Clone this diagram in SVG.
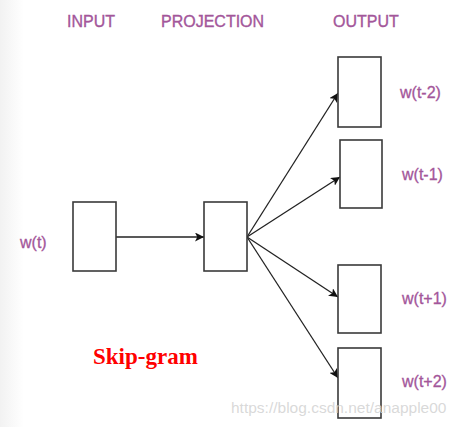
<svg xmlns="http://www.w3.org/2000/svg" width="462" height="427" viewBox="0 0 462 427">
<style>
.box{fill:#fff;stroke:#3a3a3a;stroke-width:1.6}
.hdr{font-family:"Liberation Sans",Arial,sans-serif;font-size:16px;fill:#a3569a;stroke:#a3569a;stroke-width:0.35}
.lbl{font-family:"Liberation Sans",Arial,sans-serif;font-size:16px;fill:#a3569a;stroke:#a3569a;stroke-width:0.3}
.edge{stroke:#222;stroke-width:1.3;fill:none;marker-end:url(#ah)}
</style>
<defs>
<marker id="ah" viewBox="0 0 10 10" refX="10" refY="5" markerWidth="9" markerHeight="9" markerUnits="userSpaceOnUse" orient="auto">
<path d="M0,0 L10,5 L0,10 L2.5,5 Z" fill="#111"/>
</marker>
<linearGradient id="lg" x1="0" x2="1" y1="0" y2="0">
<stop offset="0" stop-color="#f2f2f2"/>
<stop offset="1" stop-color="#ffffff"/>
</linearGradient>
</defs>
<rect x="0" y="0" width="462" height="427" fill="#fff"/>
<rect x="0" y="0" width="24" height="427" fill="url(#lg)"/>
<g id="headers">
<text class="hdr" x="67" y="27">INPUT</text>
<text class="hdr" x="161" y="27">PROJECTION</text>
<text class="hdr" x="333" y="27">OUTPUT</text>
</g>
<g id="connectors">
<line class="edge" x1="116" y1="237" x2="204" y2="237"/>
<line class="edge" x1="247" y1="237" x2="338" y2="93"/>
<line class="edge" x1="247" y1="237" x2="340" y2="177"/>
<line class="edge" x1="247" y1="237" x2="338" y2="297"/>
<line class="edge" x1="247" y1="237" x2="338" y2="378"/>
</g>
<g id="input">
<rect class="box" x="73" y="202" width="43" height="69"/>
<text class="lbl" x="20" y="248">w(t)</text>
</g>
<g id="projection">
<rect class="box" x="204" y="202" width="43" height="69"/>
</g>
<g id="out1">
<rect class="box" x="338" y="57" width="43" height="70"/>
<text class="lbl" x="400" y="98">w(t-2)</text>
</g>
<g id="out2">
<rect class="box" x="340" y="140" width="42" height="68"/>
<text class="lbl" x="402" y="180">w(t-1)</text>
</g>
<g id="out3">
<rect class="box" x="338" y="265" width="43" height="68"/>
<text class="lbl" x="402" y="304">w(t+1)</text>
</g>
<g id="out4">
<rect class="box" x="338" y="348" width="43" height="70"/>
<text class="lbl" x="402" y="387">w(t+2)</text>
</g>
<text x="93" y="364" font-family="'Liberation Serif','Times New Roman',serif" font-weight="bold" font-size="23" fill="#ff0000">Skip-gram</text>
<text x="231" y="413" font-family="'Liberation Sans',Arial,sans-serif" font-size="15.5" fill="#d2d2d2" fill-opacity="0.85">https://blog.csdn.net/anapple00</text>
</svg>
